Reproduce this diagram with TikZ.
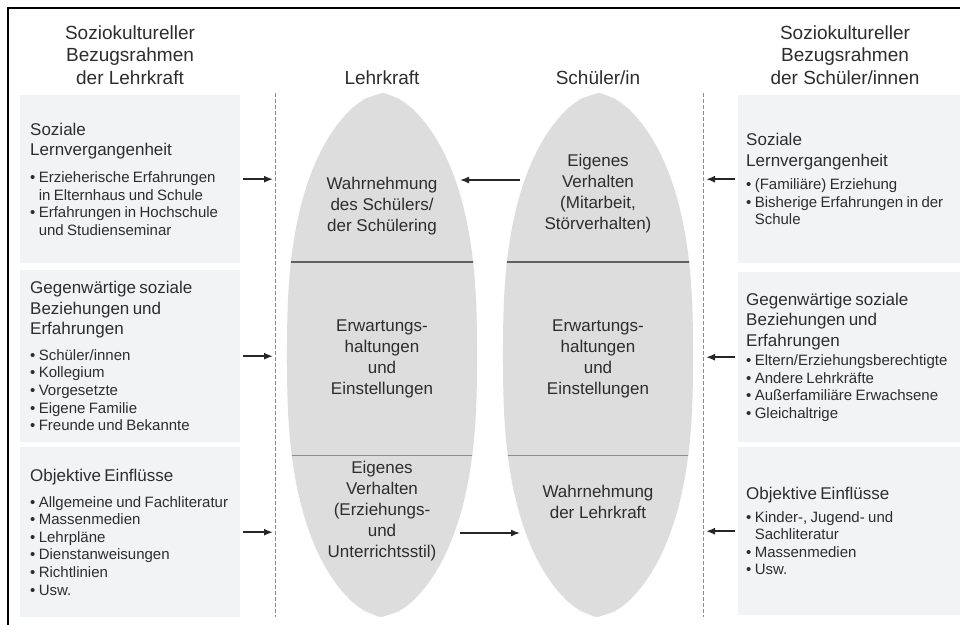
\documentclass[tikz,border=0pt]{standalone}
\usepackage{fontspec}
\setmainfont{Liberation Sans}
\usepackage{tikz}
\usetikzlibrary{positioning,arrows.meta}
\definecolor{panelgray}{RGB}{242,243,245}
\definecolor{egggray}{RGB}{221,221,221}
\definecolor{inkgray}{RGB}{45,45,45}
\definecolor{rulegray}{RGB}{140,140,140}
\newcommand{\hdsize}{\fontsize{19}{22.5}\selectfont}
\newcommand{\ttlsize}{\fontsize{17}{20.5}\selectfont}
\newcommand{\bulsize}{\fontsize{15}{17.6}\selectfont}
\newcommand{\bul}{\textbullet\ }
\newcommand{\bulind}{\hphantom{\textbullet\ }}
\newcommand{\paneltext}[3]{{\ttlsize #1\par}\vspace{#2}{\bulsize #3\par}}

\begin{document}
\begin{tikzpicture}[x=1pt,y=-1pt,
  panel/.style={fill=panelgray, inner sep=0pt, anchor=north west},
  boxtxt/.style={text=inkgray, align=left, text width=215pt, inner sep=0pt, anchor=west},
  head/.style={text=inkgray, align=center, font=\hdsize, inner sep=0pt},
  eggtxt/.style={text=inkgray, align=center, font=\fontsize{17}{21}\selectfont, inner sep=0pt},
  arr/.style={-{Latex[length=9pt,width=7pt]}, line width=1.6pt, black!85},
  sep/.style={rulegray, line width=1pt, dash pattern=on 4pt off 2pt},
  egg/.style={insert path={plot[domain=-1:1,samples=100] ({#1-95*max(0.00001,1-max(abs(\x),0.0001)^2.6)^0.6},{355+262*\x})
    -- plot[domain=1:-1,samples=100] ({#1+95*max(0.00001,1-max(abs(\x),0.0001)^2.6)^0.6},{355+262*\x}) -- cycle}}
]
\clip (0,0) rectangle (960,624);
\fill[white] (0,0) rectangle (960,624);
\draw[line width=1.5pt] (8,640) -- (8,8) -- (975,8);

% headers
\node[head] (hl) at (130,55) {Soziokultureller\\Bezugsrahmen\\der Lehrkraft};
\node[head] (hr) at (845,55) {Soziokultureller\\Bezugsrahmen\\der Schüler/innen};
\node[head] (hlk) at (382,78) {Lehrkraft};
\node[head] (hsch) at (598,78) {Schüler/in};

% panels left
\node[panel, minimum width=220pt, minimum height=168pt] (L1) at (20,95) {};
\node[panel, minimum width=220pt, minimum height=172pt] (L2) at (20,270) {};
\node[panel, minimum width=220pt, minimum height=170pt] (L3) at (20,447) {};
\node[boxtxt] (L1t) at ([xshift=10pt]L1.west) {\paneltext{Soziale\\Lernvergangenheit}{9pt}{\bul Erzieherische Erfahrungen\\\bulind in Elternhaus und Schule\\\bul Erfahrungen in Hochschule\\\bulind und Studienseminar}};
\node[boxtxt] (L2t) at ([xshift=10pt]L2.west) {\paneltext{Gegenwärtige soziale\\Beziehungen und\\Erfahrungen}{8pt}{\bul Schüler/innen\\\bul Kollegium\\\bul Vorgesetzte\\\bul Eigene Familie\\\bul Freunde und Bekannte}};
\node[boxtxt] (L3t) at ([xshift=10pt]L3.west) {\paneltext{Objektive Einflüsse}{8pt}{\bul Allgemeine und Fachliteratur\\\bul Massenmedien\\\bul Lehrpläne\\\bul Dienstanweisungen\\\bul Richtlinien\\\bul Usw.}};

% panels right
\node[panel, minimum width=230pt, minimum height=168pt] (R1) at (738,95) {};
\node[panel, minimum width=230pt, minimum height=170pt] (R2) at (738,272) {};
\node[panel, minimum width=230pt, minimum height=168pt] (R3) at (738,447) {};
\node[boxtxt] (R1t) at ([xshift=8pt]R1.west) {\paneltext{Soziale\\Lernvergangenheit}{6pt}{\bul (Familiäre) Erziehung\\\bul Bisherige Erfahrungen in der\\\bulind Schule}};
\node[boxtxt] (R2t) at ([xshift=8pt]R2.west) {\paneltext{Gegenwärtige soziale\\Beziehungen und\\Erfahrungen}{2pt}{\bul Eltern/Erziehungsberechtigte\\\bul Andere Lehrkräfte\\\bul Außerfamiliäre Erwachsene\\\bul Gleichaltrige}};
\node[boxtxt] (R3t) at ([xshift=8pt]R3.west) {\paneltext{Objektive Einflüsse}{5pt}{\bul Kinder-, Jugend- und\\\bulind Sachliteratur\\\bul Massenmedien\\\bul Usw.}};

% dashed separators
\coordinate (dLtop) at (275,93);
\coordinate (dLbot) at (275,617);
\coordinate (dRtop) at (703,93);
\coordinate (dRbot) at (703,617);
\draw[sep] (dLtop) -- (dLbot);
\draw[sep] (dRtop) -- (dRbot);

% the two egg shapes
\fill[egggray, egg=382];
\fill[egggray, egg=598];
\begin{scope}
\clip[egg=382, egg=598];
\draw[line width=2pt, black!62] (280,262) -- (700,262);
\draw[line width=1pt, black!45] (280,455) -- (700,455);
\end{scope}

\node[eggtxt] (lt) at (382,206) {Wahrnehmung\\des Schülers/\\der Schülering};
\node[eggtxt] (rt) at (598,194) {Eigenes\\Verhalten\\(Mitarbeit,\\Störverhalten)};
\node[eggtxt] (lm) at (382,359) {Erwartungs-\\haltungen\\und\\Einstellungen};
\node[eggtxt] (rm) at (598,359) {Erwartungs-\\haltungen\\und\\Einstellungen};
\node[eggtxt] (lb) at (382,511) {Eigenes\\Verhalten\\(Erziehungs-\\und\\Unterrichtsstil)};
\node[eggtxt] (rb) at (598,502) {Wahrnehmung\\der Lehrkraft};

% arrows
\coordinate (lkTop) at (460,180);
\coordinate (scTop) at (520,180);
\coordinate (lkBot) at (460,533);
\coordinate (scBot) at (520,533);
\draw[arr] (scTop) -- (lkTop);
\draw[arr] (lkBot) -- (scBot);
\foreach \b in {L1,L2,L3}
  \draw[arr] ([xshift=3pt]\b.east) -- ([xshift=-2pt]\b.east -| dLtop);
\foreach \b in {R1,R2,R3}
  \draw[arr] ([xshift=-3pt]\b.west) -- ([xshift=3pt]\b.west -| dRtop);
\end{tikzpicture}
\end{document}
